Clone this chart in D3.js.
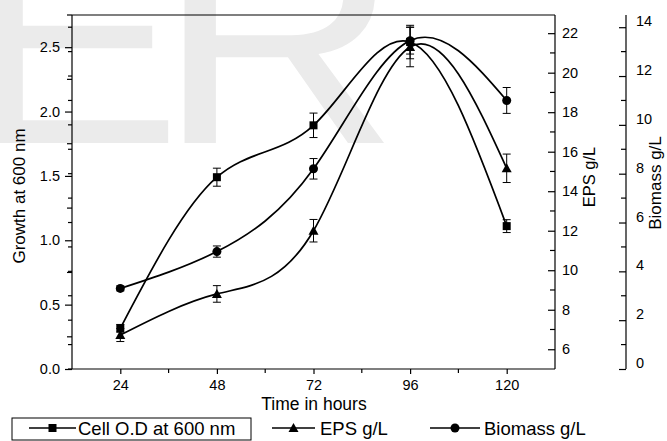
<!DOCTYPE html>
<html>
<head>
<meta charset="utf-8">
<script src="https://cdn.jsdelivr.net/npm/d3@7"></script>
<style>
	html, body { margin:0; padding:0; background:#fff; }
	svg { display:block; font-family:"Liberation Sans", Arial, sans-serif; }
	.axis text { font-size:14.5px; fill:#000; }
	.axis line, .axis path { stroke:#000; stroke-width:1.2; }
</style>
</head>
<body>
<div id="chart"></div>
<script>
// time points (hours)
var hours = [24, 48, 72, 96, 120];
// Cell O.D at 600 nm (left axis)
var cellOD    = [0.316, 1.49, 1.893, 2.54, 1.11];
var cellODerr = [0.03, 0.07, 0.095, 0.13, 0.05];
// EPS g/L (first right axis)
var eps    = [6.72, 8.8, 12.0, 21.3, 15.16];
var epsErr = [0.33, 0.42, 0.57, 1.0, 0.72];
// Biomass g/L (second right axis)
var biomass    = [3.3, 4.81, 8.2, 13.45, 11.0];
var biomassErr = [0.1, 0.23, 0.42, 0.55, 0.53];

var xTicks = [24, 48, 72, 96, 120];
var xMinor = [36, 60, 84, 108];
var odTicks = [0, 0.5, 1.0, 1.5, 2.0, 2.5];
var odMinor = [0.25, 0.75, 1.25, 1.75, 2.25, 2.75];
var epsTicks = [6, 8, 10, 12, 14, 16, 18, 20, 22];
var epsMinor = [7, 9, 11, 13, 15, 17, 19, 21];
var bioTicks = [0, 2, 4, 6, 8, 10, 12, 14];
var bioMinor = [1, 3, 5, 7, 9, 11, 13];

(function() {
	var W = 667, H = 441
		, left = 72, right = 555, top = 15, bottom = 369
		, bioX = 626;

	var svg = d3.select('#chart')
		.append('svg')
		.attr('width', W)
		.attr('height', H);

	// watermark behind the chart
	var wm = svg.append('g').attr('fill', '#ebebeb').attr('font-size', 300);
	wm.append('text')
		.text('E')
		.attr('transform', 'translate(-34,143) scale(1.08,1)');
	wm.append('text')
		.text('R')
		.attr('transform', 'translate(157,143) scale(1.12,1)');

	var x = d3.scaleLinear().domain([12, 132]).range([left, right]);
	var yOD = d3.scaleLinear().domain([0, 2.75]).range([bottom, top]);
	var yEPS = d3.scaleLinear().domain([5, 22.92]).range([bottom, top]);
	var yBio = d3.scaleLinear().domain([0, 14.5]).range([bottom, top]);

	// frame top line
	svg.append('line')
		.attr('x1', left).attr('x2', right)
		.attr('y1', top).attr('y2', top)
		.attr('stroke', '#000').attr('stroke-width', 1.2);

	// bottom axis
	var gx = svg.append('g')
		.attr('class', 'axis')
		.attr('transform', 'translate(0,' + bottom + ')');
	gx.call(d3.axisBottom(x).tickValues(xTicks).tickSize(5).tickSizeOuter(0).tickPadding(6));
	gx.select('.domain').attr('d', 'M' + left + ',0H' + right);
	gx.selectAll('.minor').data(xMinor).enter().append('line')
		.attr('class', 'minor')
		.attr('x1', x).attr('x2', x)
		.attr('y1', 0).attr('y2', 4);

	// left axis
	var gl = svg.append('g')
		.attr('class', 'axis')
		.attr('transform', 'translate(' + left + ',0)');
	gl.call(d3.axisLeft(yOD).tickValues(odTicks).tickSize(7).tickSizeOuter(0).tickPadding(5).tickFormat(d3.format('.1f')));
	gl.select('.domain').attr('d', 'M0,' + bottom + 'V' + top);
	gl.selectAll('.minor').data(odMinor).enter().append('line')
		.attr('class', 'minor')
		.attr('y1', yOD).attr('y2', yOD)
		.attr('x1', 0).attr('x2', -5);
	// hidden layer ticks showing through on the left side
	gl.selectAll('.minor2').data(bioTicks.concat(bioMinor)).enter().append('line')
		.attr('class', 'minor2')
		.attr('y1', yBio).attr('y2', yBio)
		.attr('x1', 0).attr('x2', -4);

	// EPS axis (right side of frame), ticks pointing inward
	var ge = svg.append('g')
		.attr('class', 'axis')
		.attr('transform', 'translate(' + right + ',0)');
	ge.call(d3.axisRight(yEPS).tickValues(epsTicks).tickSize(-7).tickSizeOuter(0).tickPadding(7));
	ge.select('.domain').attr('d', 'M0,' + bottom + 'V' + top);
	ge.selectAll('.minor').data(epsMinor).enter().append('line')
		.attr('class', 'minor')
		.attr('y1', yEPS).attr('y2', yEPS)
		.attr('x1', 0).attr('x2', -5);

	// Biomass axis (offset)
	var gb = svg.append('g')
		.attr('class', 'axis')
		.attr('transform', 'translate(' + bioX + ',0)');
	gb.call(d3.axisRight(yBio).tickValues(bioTicks).tickSize(-7).tickSizeOuter(0).tickPadding(10));
	gb.select('.domain').attr('d', 'M0,' + bottom + 'V' + top);
	gb.selectAll('.tick text').attr('transform', 'translate(0,-6)');
	gb.selectAll('.minor').data(bioMinor).enter().append('line')
		.attr('class', 'minor')
		.attr('y1', yBio).attr('y2', yBio)
		.attr('x1', 0).attr('x2', -5);

	// axis titles
	svg.append('text')
		.text('Time in hours')
		.attr('x', 314).attr('y', 410)
		.attr('text-anchor', 'middle')
		.attr('font-size', 17.5);
	svg.append('text')
		.text('Growth at 600 nm')
		.attr('transform', 'translate(25,196) rotate(-90)')
		.attr('text-anchor', 'middle')
		.attr('font-size', 17);
	svg.append('text')
		.text('EPS g/L')
		.attr('transform', 'translate(595,177) rotate(-90)')
		.attr('text-anchor', 'middle')
		.attr('font-size', 16.5);
	svg.append('text')
		.text('Biomass g/L')
		.attr('transform', 'translate(661,183) rotate(-90)')
		.attr('text-anchor', 'middle')
		.attr('font-size', 17);

	var series = [
		{ name:'Cell O.D at 600 nm', vals:cellOD, err:cellODerr, y:yOD, mark:'square' },
		{ name:'EPS g/L', vals:eps, err:epsErr, y:yEPS, mark:'triangle' },
		{ name:'Biomass g/L', vals:biomass, err:biomassErr, y:yBio, mark:'circle' }
	];

	function marker(g, type, cx, cy) {
		if (type === 'square')
			g.append('rect').attr('x', cx - 4).attr('y', cy - 4).attr('width', 8).attr('height', 8).attr('fill', '#000');
		else if (type === 'triangle')
			g.append('path').attr('d', 'M' + cx + ',' + (cy - 5) + 'L' + (cx + 5) + ',' + (cy + 4) + 'L' + (cx - 5) + ',' + (cy + 4) + 'Z').attr('fill', '#000');
		else
			g.append('circle').attr('cx', cx).attr('cy', cy).attr('r', 4.5).attr('fill', '#000');
	}

	var line = d3.line().curve(d3.curveNatural);

	series.forEach(function(s) {
		var pts = hours.map(function(h, i) { return [x(h), s.y(s.vals[i])]; });
		svg.append('path')
			.attr('d', line(pts))
			.attr('fill', 'none')
			.attr('stroke', '#000')
			.attr('stroke-width', 1.7);
		var g = svg.append('g');
		hours.forEach(function(h, i) {
			var cx = x(h)
				, y1 = s.y(s.vals[i] + s.err[i])
				, y2 = s.y(s.vals[i] - s.err[i]);
			g.append('path')
				.attr('d', 'M' + cx + ',' + y1 + 'V' + y2 + 'M' + (cx - 4) + ',' + y1 + 'H' + (cx + 4) + 'M' + (cx - 4) + ',' + y2 + 'H' + (cx + 4))
				.attr('fill', 'none')
				.attr('stroke', '#000')
				.attr('stroke-width', 1);
			marker(g, s.mark, cx, s.y(s.vals[i]));
		});
	});

	// legend
	svg.append('rect')
		.attr('x', 12).attr('y', 418)
		.attr('width', 239).attr('height', 22)
		.attr('fill', 'none')
		.attr('stroke', '#000')
		.attr('stroke-width', 1);
	var legendPos = [
		{ x1:29, x2:76, tx:78 },
		{ x1:272, x2:315, tx:320 },
		{ x1:430, x2:480, tx:484 }
	];
	series.forEach(function(s, i) {
		var p = legendPos[i], g = svg.append('g');
		g.append('line')
			.attr('x1', p.x1).attr('x2', p.x2)
			.attr('y1', 428).attr('y2', 428)
			.attr('stroke', '#000').attr('stroke-width', 1.5);
		marker(g, s.mark, (p.x1 + p.x2) / 2, 428);
		g.append('text')
			.text(s.name)
			.attr('x', p.tx).attr('y', 434.5)
			.attr('font-size', 18.5);
	});
})();
</script>
</body>
</html>
